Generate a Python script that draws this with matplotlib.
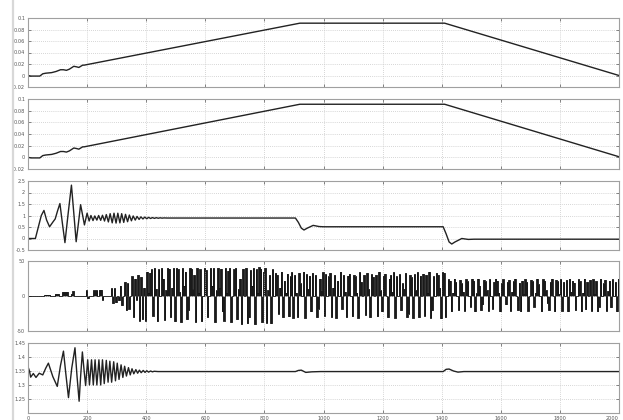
import numpy as np
import matplotlib
matplotlib.use("Agg")
import matplotlib.pyplot as plt
from matplotlib.lines import Line2D

# panel 1 / 2: ramp signals (time, value)
t_ramp1 = [0, 10, 40, 50, 60, 80, 95, 110, 120, 130, 140, 155, 165, 172, 185, 190, 920, 1410, 2000]
v_ramp1 = [0, -0.001, -0.001, 0.003, 0.004, 0.005, 0.007, 0.010, 0.010, 0.009, 0.011, 0.016,
           0.015, 0.014, 0.018, 0.018, 0.091, 0.091, 0.0]
t_ramp2 = [0, 10, 40, 50, 60, 80, 95, 110, 120, 130, 140, 155, 165, 172, 185, 190, 920, 1410, 2000]
v_ramp2 = [0, -0.001, -0.001, 0.003, 0.004, 0.005, 0.007, 0.010, 0.010, 0.009, 0.011, 0.016,
           0.015, 0.014, 0.018, 0.018, 0.091, 0.091, 0.001]

# panel 3
t_p3 = [0, 25, 35, 45, 54, 63, 73, 85, 92, 100, 108, 116, 125, 136, 147, 155, 163, 171, 178, 185, 191, 200,
        207, 213, 220, 226, 233, 239, 246, 252, 259, 265, 272, 278, 285, 291, 298, 304, 311, 317, 324, 330,
        337, 343, 350, 356, 363, 369, 376, 382, 389, 395, 402, 408, 415, 421, 428, 434, 441, 447, 454, 460,
        470, 905, 915, 925, 934, 945, 965, 985, 1000, 1405, 1415, 1425, 1434, 1445, 1468, 1490, 1510, 2000]
v_p3 = [0, 0, 0.5, 1.0, 1.22, 0.8, 0.51, 0.73, 0.85, 1.2, 1.52, 0.7, -0.18, 1.1, 2.32, 1.1, -0.14, 0.7, 1.47,
        1.0, 0.59, 1.1,
        0.76, 1.0, 0.78, 0.98, 0.8, 1.0, 0.79, 1.01, 0.76, 1.04, 0.72, 1.08, 0.68, 1.1, 0.67, 1.1, 0.68,
        1.08, 0.7, 1.05, 0.73, 1.02, 0.77, 0.98, 0.8, 0.96, 0.83, 0.94, 0.85, 0.93, 0.86, 0.92, 0.87, 0.91,
        0.875, 0.905, 0.88, 0.9, 0.885, 0.895,
        0.89, 0.89, 0.7, 0.45, 0.37, 0.45, 0.57, 0.52, 0.51, 0.51, 0.2, -0.15, -0.24, -0.15, 0.0, -0.04,
        -0.03, -0.03]

# panel 4: switching signal, one value per 5 time units
v_sw = [
    0, 0, 0, 0, 0, 0, 0, 0, 0, 0, 0, 2, 2, 2, 2, 0, 0, 0, 3, 3,
    3, 0, 0, 6, 6, 6, 6, 0, 0, 3, 7, 0, 0, 0, 0, 0, 0, 0, 0, 8,
    -3, 0, 0, 0, 8, 8, 8, 0, 9, 9, -5, 0, 0, 0, 0, 0, 11, -10, 11, -9,
    0, -6, 15, -13, 0, 20, -20, 18, -18, 0, 28, -30, 25, -5, 30, -35, 27, -33, 12, -35,
    35, 5, 33, 38, -28, 40, 10, -36, 38, 0, 40, 25, -34, 8, 40, 39, -30, 12, 40, -36,
    40, 38, 6, -37, 40, 15, 35, -33, -20, 40, 39, 10, 30, -37, 40, 5, 38, -36, 0, 40,
    37, -30, 0, 40, 15, 40, -37, 8, 40, 12, 39, -22, -35, 40, 5, 36, 40, -37, 0, 38,
    40, -33, 10, 25, -40, 39, 0, 40, -39, -30, 37, 15, 40, -40, 38, 5, 41, 39, -37, 35,
    40, -38, 8, 30, -39, 38, 0, 33, 30, -25, 12, 35, -30, 22, 5, 32, -29, 28, 34, -31,
    30, 5, -30, 33, 18, 0, 35, -31, 31, 10, 29, -22, 33, 0, 30, -30, -18, 25, 8, 34,
    -28, 31, 0, 28, 33, -30, 12, 30, -31, 22, 0, 35, -18, 30, 6, -30, 29, 32, 0, -29,
    30, 28, 5, -31, 34, 20, 0, 30, -27, 33, 10, -30, 31, 27, 0, 30, -29, 35, 8, -22,
    29, 32, 0, -30, 25, 30, 6, 34, -31, 28, 0, 31, -20, 18, 10, 33, -30, -25, 30, 27,
    -31, 31, 8, 34, -30, 29, 0, 32, -28, 30, 5, 35, -31, -20, 28, 0, 33, 30, 12, -32,
    34, 33, -30, 0, 24, 22, -22, 5, 25, 20, 0, -20, 23, 18, 6, -21, 24, 21, 0, -15,
    25, 22, -22, 4, 25, 15, -20, -12, 23, 21, 8, -21, 24, 0, -18, 20, 25, 22, 5, -22,
    18, 24, 0, -12, 20, 23, -21, 6, 21, 25, 0, -20, 19, -22, 22, 4, 24, 20, -21, 0,
    23, 21, -15, 5, 25, 17, 0, -22, 24, 22, 8, -10, -20, 20, 25, 0, -22, 23, 21, 3,
    24, -21, 20, 0, 23, -22, 25, 6, 22, 19, -20, 0, 24, 21, -22, 5, 25, -19, 20, 0,
    23, -21, 24, 4, 21, -22, -15, 25, 0, 18, 23, -21, 7, 22, -16, 24, 0, 20, -22, 25,
    21,
]
t_sw = np.arange(len(v_sw)) * 5

# panel 5
t_p5 = [0, 5, 9, 18, 27, 38, 50, 60, 69, 84, 99, 110, 120, 128, 137, 148, 159, 166, 173, 178, 184, 190, 195,
        202, 208, 215, 221, 227, 233, 240, 246, 252, 258, 265, 271, 277, 283, 290, 296, 302, 308, 315, 321,
        327, 333, 340, 346, 352, 358, 365, 371, 377, 383, 390, 396, 402, 408, 415, 421, 427, 440,
        905, 915, 925, 940, 960, 990, 1405, 1415, 1425, 1440, 1455, 1475, 2000]
v_p5 = [1.365, 1.35, 1.328, 1.341, 1.327, 1.342, 1.336, 1.36, 1.378, 1.33, 1.295, 1.37, 1.421, 1.34, 1.255,
        1.36, 1.433, 1.33, 1.242, 1.33, 1.418, 1.35, 1.298,
        1.39, 1.30, 1.39, 1.30, 1.39, 1.30, 1.39, 1.30, 1.39, 1.305, 1.388, 1.31, 1.385, 1.31, 1.383, 1.315,
        1.378, 1.32, 1.372, 1.327, 1.367, 1.332, 1.362, 1.336, 1.358, 1.34, 1.355, 1.342, 1.353, 1.344,
        1.352, 1.345, 1.351, 1.346, 1.35, 1.347, 1.349, 1.348,
        1.348, 1.352, 1.353, 1.345, 1.347, 1.348, 1.348, 1.356, 1.357, 1.35, 1.346, 1.348, 1.348]

x_ticks = [0, 200, 400, 600, 800, 1000, 1200, 1400, 1600, 1800, 2000]
yt1 = [-0.02, 0, 0.02, 0.04, 0.06, 0.08, 0.1]
yt3 = [-0.5, 0, 0.5, 1, 1.5, 2, 2.5]
yt4 = [-50, 0, 50]
yt5 = [1.25, 1.3, 1.35, 1.4, 1.45]

fig = plt.figure(figsize=(6.23, 4.20), dpi=100)
fig.patch.set_facecolor("white")
fig.add_artist(Line2D([13.5 / 623, 13.5 / 623], [0, 1], color="#d8d8d8", lw=1.6))

left = 28 / 623
width = 591 / 623
boxes = [(18, 87), (99, 169), (181, 250), (261, 331), (343, 413)]
axes = []
for top, bot in boxes:
    ax = fig.add_axes([left, (420 - bot) / 420, width, (bot - top) / 420])
    axes.append(ax)

def style(ax, yticks, ylim, labels):
    ax.set_xlim(0, 2000)
    ax.set_ylim(*ylim)
    ax.set_xticks(x_ticks)
    ax.set_yticks(yticks)
    ax.set_yticklabels(labels)
    ax.grid(True, color="#c8c8c8", linestyle=(0, (1, 1.5)), linewidth=0.6)
    ax.tick_params(direction="in", length=2.5, width=0.5, colors="#555555", labelsize=3.6,
                   top=True, right=True, pad=2)
    for s in ax.spines.values():
        s.set_color("#a0a0a0")
        s.set_linewidth(0.8)

lc = "#222222"
axes[0].plot(t_ramp1, v_ramp1, color=lc, lw=1.0)
style(axes[0], yt1, (-0.02, 0.1), ["-0.02", "0", "0.02", "0.04", "0.06", "0.08", "0.1"])
axes[1].plot(t_ramp2, v_ramp2, color=lc, lw=1.0)
style(axes[1], yt1, (-0.02, 0.1), ["-0.02", "0", "0.02", "0.04", "0.06", "0.08", "0.1"])
axes[2].plot(t_p3, v_p3, color=lc, lw=1.0)
style(axes[2], yt3, (-0.5, 2.5), ["-0.5", "0", "0.5", "1", "1.5", "2", "2.5"])
axes[3].fill_between(t_sw, 0, v_sw, step="post", color="#1a1a1a", lw=0)
axes[3].step(t_sw, v_sw, where="post", color="#111111", lw=0.6)
style(axes[3], yt4, (-50, 50), ["-50", "0", "50"])
axes[4].plot(t_p5, v_p5, color=lc, lw=1.0)
style(axes[4], yt5, (1.2, 1.45), ["1.25", "1.3", "1.35", "1.4", "1.45"])

for ax in axes[:4]:
    ax.set_xticklabels([])
axes[4].set_xticklabels([str(v) for v in x_ticks])
axes[4].get_xticklabels()[-1].set_horizontalalignment("right")

fig.savefig("out.png", dpi=100, facecolor="white")
